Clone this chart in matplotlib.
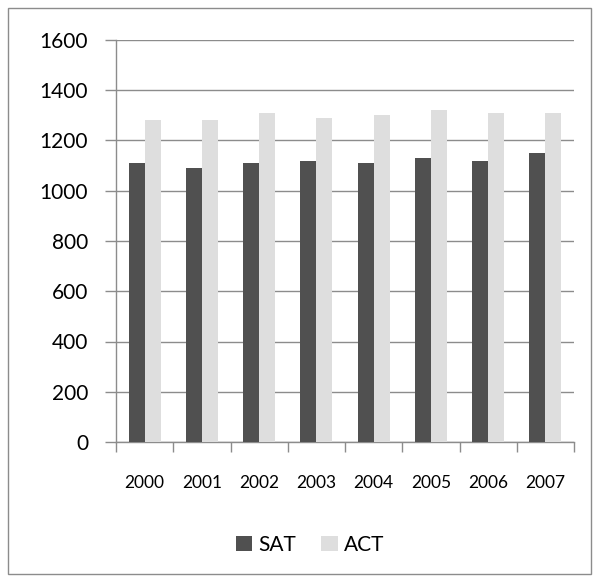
import matplotlib.pyplot as plt
import numpy as np
from matplotlib.patches import Rectangle

anos = ['2000', '2001', '2002', '2003', '2004', '2005', '2006', '2007']
sat = [1110, 1090, 1110, 1120, 1110, 1130, 1120, 1150]
act = [1280, 1280, 1310, 1290, 1300, 1320, 1310, 1310]

plt.rcParams['font.family'] = ['Lato', 'DejaVu Sans']

fig = plt.figure(figsize=(5.99, 5.82), dpi=100)
ax = fig.add_axes([116/599, 1 - 442/582, 458/599, 402/582])

x = np.arange(len(anos))
largura = 0.28
ax.bar(x - largura/2, sat, largura, color='#505050', label='SAT', zorder=3)
ax.bar(x + largura/2, act, largura, color='#dedede', label='ACT', zorder=3)

ax.set_xlim(-0.5, len(anos) - 0.5)
ax.set_ylim(0, 1600)
ax.set_yticks(range(0, 1601, 200))
ax.grid(axis='y', color='#8c8c8c', linewidth=1, zorder=0)

# ticks do eixo x nas divisas das categorias
ax.set_xticks(np.arange(-0.5, len(anos)), minor=False)
ax.set_xticklabels([])
ax.set_xticks(x, minor=True)
ax.set_xticklabels(anos, minor=True, fontsize=12.5)
ax.tick_params(axis='x', which='major', length=7, color='#8c8c8c', width=1)
ax.tick_params(axis='x', which='minor', length=0, pad=24)
ax.tick_params(axis='y', length=8, color='#8c8c8c', width=1, labelsize=15, pad=12)

for lado in ['top', 'right']:
    ax.spines[lado].set_visible(False)
for lado in ['left', 'bottom']:
    ax.spines[lado].set_color('#8c8c8c')
    ax.spines[lado].set_linewidth(1)

fig.legend(loc='center', bbox_to_anchor=(0.518, 0.064), ncol=2, frameon=False,
           fontsize=15, handlelength=0.8, handleheight=0.8, handletextpad=0.3,
           columnspacing=1.2)

# borda do gráfico
fig.patches.append(Rectangle((8/599, 8/582), 583/599, 566/582, transform=fig.transFigure,
                             fill=False, edgecolor='#8c8c8c', linewidth=1))

fig.savefig('out.png', dpi=100)
